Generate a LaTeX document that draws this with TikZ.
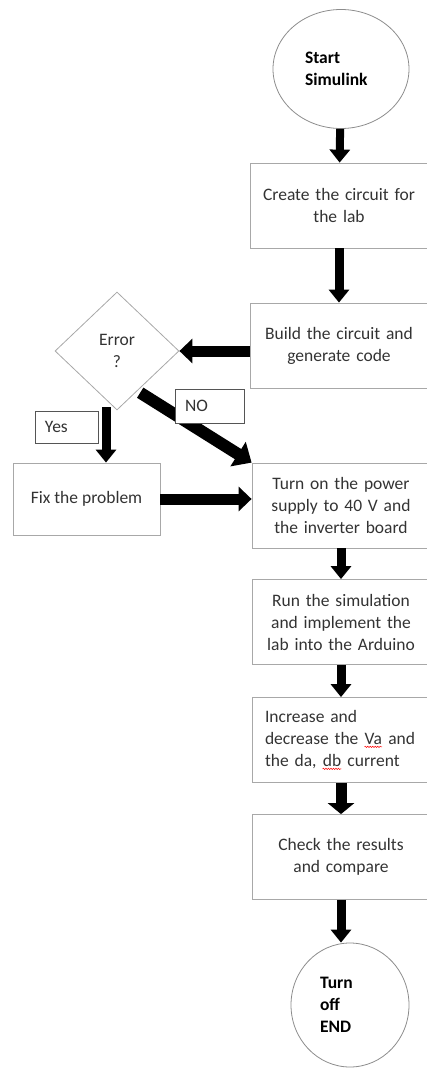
\documentclass[tikz,border=0pt]{standalone}
\usepackage{fontspec}
\setmainfont{Carlito}
\usetikzlibrary{shapes.geometric, arrows.meta, decorations.pathmorphing}
\definecolor{boxline}{HTML}{A8A8A8}
\definecolor{ringline}{HTML}{8C8C8C}
\definecolor{tagline}{HTML}{555555}
\definecolor{txt}{HTML}{333333}
\newcommand{\squig}[1]{\tikz[baseline=(w.base)]{\node[inner sep=0pt,minimum width=0pt,minimum height=0pt,text width={},draw=none,align=none] (w) {#1};
  \draw[red,line width=0.5pt,decorate,decoration={snake,amplitude=0.7pt,segment length=2.5pt}] ([yshift=-2.5pt]w.base west) -- ([yshift=-2.5pt]w.base east);}}

\begin{document}
\begin{tikzpicture}[x=1pt,y=-1pt,
    every node/.style={font=\fontsize{17.5}{22}\selectfont,text=txt},
    blk/.style={draw=boxline,line width=0.8pt,minimum height=85pt,text width=156pt,inner xsep=11pt,inner ysep=0pt,align=center},
    term/.style={draw=ringline,line width=0.8pt,ellipse,inner sep=0pt,font=\fontsize{17.5}{22}\selectfont\bfseries,text=black,align=left},
    tag/.style={draw=tagline,fill=white,line width=0.8pt,inner xsep=10pt,inner ysep=0pt,align=left},
    arr/.style={line width=9pt,-{Triangle[width=20pt,length=13pt]}},
    fat/.style={line width=11pt,-{Triangle[width=24pt,length=13pt]}}]
      \useasboundingbox (0,0) rectangle (427,1069);
      \clip (0,0) rectangle (427,1069);
      \node[term,minimum width=136pt,minimum height=119pt,text width=72pt] (st_0) at (341,69) {Start\\Simulink};
      \node[blk] (b_1) at (339,205.5) {Create the circuit for\\the lab};
      \node[blk] (b_2) at (339,345.5) {Build the circuit and\\generate code};
      \node[draw=boxline,line width=0.8pt,diamond,inner sep=0pt,minimum width=124pt,minimum height=118pt,align=center] (d_1) at (117,351) {Error\\?};
      \node[draw=boxline,line width=0.8pt,minimum width=147pt,minimum height=72pt] (f_1) at (86.5,499) {Fix the problem};
      \node[blk] (b_3) at (341,505.5) {Turn on the power\\supply to 40 V and\\the inverter board};
      \node[blk] (b_4) at (341,622) {Run the simulation\\and implement the\\lab into the Arduino};
      \node[blk,align=left,inner xsep=13pt,text width=152pt] (b_5) at (341,740) {Increase and\\decrease the \squig{Va} and\\the da, \squig{db} current};
      \node[blk] (b_6) at (341,857) {Check the results\\and compare};
      \node[term,minimum width=118pt,minimum height=124pt,text width=60pt] (e_1) at (350,1005) {Turn\\off\\END};
      \coordinate (y_0) at ([xshift=-11pt,yshift=3pt]d_1.south);
      \coordinate (n_0) at ([xshift=-8pt,yshift=-12pt]d_1.south east);
      \path
      (st_0) edge[arr,line width=8pt] (b_1)
      (b_1) edge[arr] (b_2)
      (b_2.west |- d_1.east) edge[fat] (d_1.east)
      (y_0) edge[arr] (y_0 |- f_1.north)
      (n_0) edge[line width=12pt,-{Triangle[width=28pt,length=16pt]}] (b_3.north west)
      (f_1.east) edge[fat] (b_3.west |- f_1.east)
      (b_3) edge[arr] (b_4)
      (b_4) edge[arr] (b_5)
      (b_5) edge[fat,-{Triangle[width=26pt,length=11pt]}] (b_6)
      (b_6.south) edge[arr] (b_6.south |- e_1.north);
      \node[tag,text width=49pt,minimum height=34pt] (t_no) at (209.5,406) {NO};
      \node[tag,text width=43pt,minimum height=32pt] (t_yes) at (66.5,427) {Yes};
    \end{tikzpicture}
\end{document}
